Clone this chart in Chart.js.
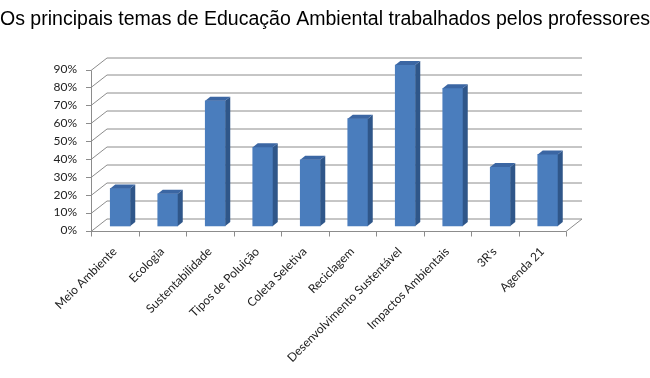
<!DOCTYPE html>
<html>
<head>
<meta charset="utf-8">
<script src="https://cdn.jsdelivr.net/npm/chart.js@4"></script>
<style>
  html, body { margin: 0; padding: 0; background: #fff; }
  #wrap { width: 650px; height: 378px; }
</style>
</head>
<body>
<div id="wrap"><canvas id="chart" width="650" height="378"></canvas></div>
<script>
const chartTitle = 'Os principais temas de Educação Ambiental trabalhados pelos professores';
const categories = ['Meio Ambiente', 'Ecologia', 'Sustentabilidade', 'Tipos de Poluição', 'Coleta Seletiva',
  'Reciclagem', 'Desenvolvimento Sustentável', 'Impactos Ambientais', "3R's", 'Agenda 21'];
const percentages = [21, 18, 70, 44, 37, 60, 90, 77, 33, 40];
const yMax = 90;
const yStep = 10;

// fake 3d: depth of the walls and of the bars
const wallDx = 16, wallDy = 12.5;
const barShiftX = 5.5, barShiftY = 4.5;
const barDx = 5, barDy = 4;

const line = (ctx, pts) => {
  ctx.beginPath();
  ctx.moveTo(pts[0][0], pts[0][1]);
  pts.slice(1).forEach((p) => ctx.lineTo(p[0], p[1]));
  ctx.stroke();
};

const walls = {
  id: 'walls',
  beforeDatasetsDraw(chart) {
    const { ctx, chartArea } = chart;
    const { left, right, top, bottom } = chartArea;
    const y = chart.scales.y;
    ctx.save();
    ctx.strokeStyle = '#8c8c8c';
    ctx.lineWidth = 1;
    y.ticks.forEach((t) => {
      const py = Math.round(y.getPixelForValue(t.value)) + 0.5;
      line(ctx, [[left, py], [left + wallDx, py - wallDy], [right + wallDx, py - wallDy]]);
      line(ctx, [[left - 5, py], [left, py]]);
    });
    const by = Math.round(bottom) + 0.5;
    line(ctx, [[left, by], [right, by], [right + wallDx, by - wallDy]]);
    line(ctx, [[left + 0.5, Math.round(top) + 0.5], [left + 0.5, by]]);
    const n = categories.length;
    for (let i = 0; i <= n; i++) {
      const px = Math.round(left + i * (right - left) / n) + 0.5;
      line(ctx, [[px, by], [px, by + 5]]);
    }
    ctx.restore();

    ctx.save();
    ctx.translate(barShiftX, -barShiftY);
  },
  afterDatasetsDraw(chart) {
    const { ctx } = chart;
    chart.getDatasetMeta(0).data.forEach((bar) => {
      const { x, y, base, width } = bar.getProps(['x', 'y', 'base', 'width'], true);
      const l = x - width / 2, r = x + width / 2;
      ctx.fillStyle = '#2f5689';
      ctx.beginPath();
      ctx.moveTo(r, y);
      ctx.lineTo(r + barDx, y - barDy);
      ctx.lineTo(r + barDx, base - barDy);
      ctx.lineTo(r, base);
      ctx.closePath();
      ctx.fill();
      ctx.fillStyle = '#3b66a3';
      ctx.beginPath();
      ctx.moveTo(l, y);
      ctx.lineTo(l + barDx, y - barDy);
      ctx.lineTo(r + barDx, y - barDy);
      ctx.lineTo(r, y);
      ctx.closePath();
      ctx.fill();
    });
    ctx.restore();
  }
};

new Chart(document.getElementById('chart'), {
  type: 'bar',
  data: {
    labels: categories,
    datasets: [{
      data: percentages,
      backgroundColor: '#4a7dbd',
      barThickness: 20,
      clip: false
    }]
  },
  options: {
    responsive: false,
    animation: false,
    layout: { padding: 0 },
    plugins: {
      legend: { display: false },
      tooltip: { enabled: false },
      title: {
        display: true,
        text: chartTitle,
        color: '#000',
        font: { family: 'Liberation Sans', size: 20, weight: 'normal', lineHeight: 1.2 },
        padding: { top: 7, bottom: 38.5 }
      }
    },
    scales: {
      x: {
        grid: { display: false, drawTicks: false },
        border: { display: false },
        ticks: {
          autoSkip: false,
          maxRotation: 45,
          minRotation: 45,
          padding: 14,
          color: '#222',
          font: { family: 'Lato', size: 12 }
        },
        afterFit(scale) { scale.height = 147.5; }
      },
      y: {
        min: 0,
        max: yMax,
        grid: { display: false, drawTicks: false },
        border: { display: false },
        ticks: {
          stepSize: yStep,
          padding: 14,
          color: '#222',
          font: { family: 'Lato', size: 12 },
          callback: (v) => v + '%'
        },
        afterFit(scale) { scale.width = 91; }
      },
      // empty right axis, only keeps room for the depth of the walls
      spacer: {
        position: 'right',
        grid: { display: false, drawTicks: false },
        border: { display: false },
        ticks: { display: false },
        afterFit(scale) { scale.width = 84; }
      }
    }
  },
  plugins: [walls]
});
</script>
</body>
</html>
